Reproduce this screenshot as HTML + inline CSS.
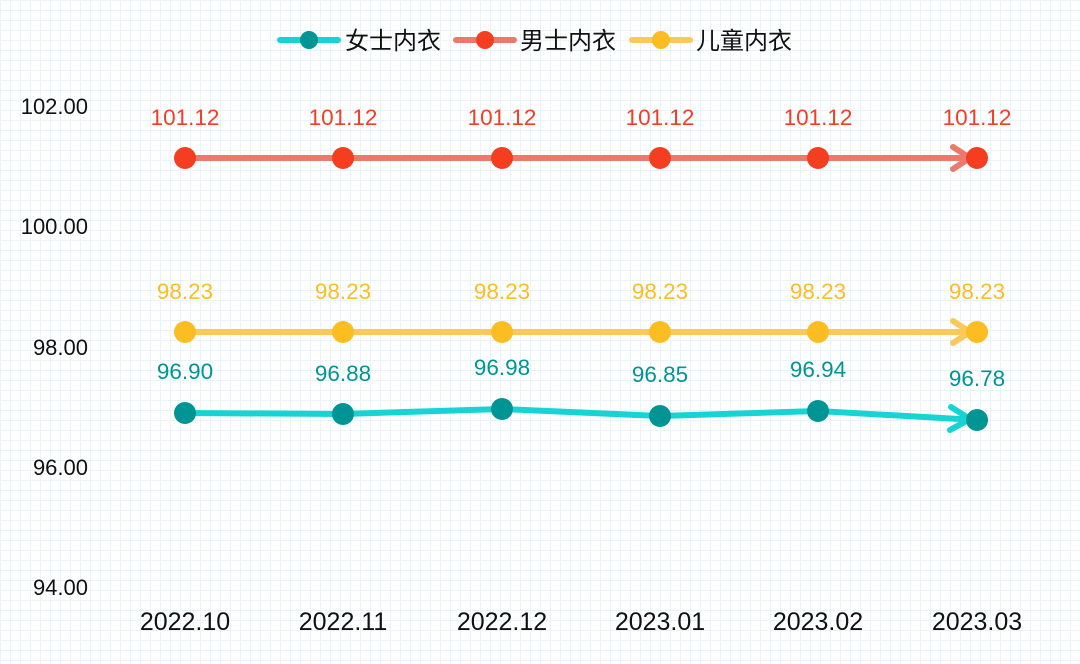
<!DOCTYPE html><html><head><meta charset="utf-8"><style>
body{margin:0;width:1080px;height:659px;overflow:hidden;background:#fff;
background-image:linear-gradient(#e8f4fa 1px,transparent 1px),linear-gradient(90deg,#e8f4fa 1px,transparent 1px);background-size:10px 10px;}
text{font-family:"Liberation Sans","Noto Sans CJK SC",sans-serif}
</style></head><body>
<svg width="1080" height="659" xmlns="http://www.w3.org/2000/svg">
<g font-size="22" fill="#111" text-anchor="end">
<text x="88" y="114">102.00</text><text x="88" y="234">100.00</text><text x="88" y="355">98.00</text><text x="88" y="475">96.00</text><text x="88" y="595">94.00</text>
</g>
<g font-size="25" fill="#111" text-anchor="middle">
<text x="185" y="630">2022.10</text><text x="343" y="630">2022.11</text><text x="502" y="630">2022.12</text><text x="660" y="630">2023.01</text><text x="818" y="630">2023.02</text><text x="977" y="630">2023.03</text>
</g>
<g stroke-linecap="round" stroke-linejoin="round" fill="none" stroke-width="6">
<polyline stroke="#ec7a6c" points="185,158 977,158"/><polyline stroke="#ec7a6c" points="953,147 970,158 953,169"/>
<polyline stroke="#fbc95a" points="185,332 977,332"/><polyline stroke="#fbc95a" points="953,321 970,332 953,343"/>
<polyline stroke="#16d4d4" points="185,413 343,414 502,409 660,416 818,411 977,420"/><polyline stroke="#16d4d4" points="951,407 970,419 950,430"/>
</g>
<g fill="#f53d1f"><circle cx="185" cy="158" r="11"/><circle cx="343" cy="158" r="11"/><circle cx="502" cy="158" r="11"/><circle cx="660" cy="158" r="11"/><circle cx="818" cy="158" r="11"/><circle cx="977" cy="158" r="11"/></g>
<g fill="#fbbd21"><circle cx="185" cy="332" r="11"/><circle cx="343" cy="332" r="11"/><circle cx="502" cy="332" r="11"/><circle cx="660" cy="332" r="11"/><circle cx="818" cy="332" r="11"/><circle cx="977" cy="332" r="11"/></g>
<g fill="#009494"><circle cx="185" cy="413" r="11"/><circle cx="343" cy="414" r="11"/><circle cx="502" cy="409" r="11"/><circle cx="660" cy="416" r="11"/><circle cx="818" cy="411" r="11"/><circle cx="977" cy="420" r="11"/></g>
<g font-size="22.5" text-anchor="middle" fill="#f53d1f">
<text x="185" y="125">101.12</text><text x="343" y="125">101.12</text><text x="502" y="125">101.12</text><text x="660" y="125">101.12</text><text x="818" y="125">101.12</text><text x="977" y="125">101.12</text></g>
<g font-size="22.5" text-anchor="middle" fill="#fbbd21">
<text x="185" y="299">98.23</text><text x="343" y="299">98.23</text><text x="502" y="299">98.23</text><text x="660" y="299">98.23</text><text x="818" y="299">98.23</text><text x="977" y="299">98.23</text></g>
<g font-size="22.5" text-anchor="middle" fill="#009494">
<text x="185" y="379">96.90</text><text x="343" y="381">96.88</text><text x="502" y="375">96.98</text><text x="660" y="382">96.85</text><text x="818" y="377">96.94</text><text x="977" y="386">96.78</text></g>
<g stroke-width="6" stroke-linecap="round">
<line x1="280" y1="40" x2="338" y2="40" stroke="#16d4d4"/><line x1="456" y1="40" x2="514" y2="40" stroke="#ec7a6c"/><line x1="632" y1="40" x2="690" y2="40" stroke="#fbc95a"/></g>
<circle cx="309" cy="40" r="9" fill="#009494"/><circle cx="485" cy="40" r="9" fill="#f53d1f"/><circle cx="661" cy="40" r="9" fill="#fbbd21"/>
<g font-size="24" fill="#111"><text x="345" y="49">女士内衣</text><text x="520" y="49">男士内衣</text><text x="696" y="49">儿童内衣</text></g>
</svg></body></html>
